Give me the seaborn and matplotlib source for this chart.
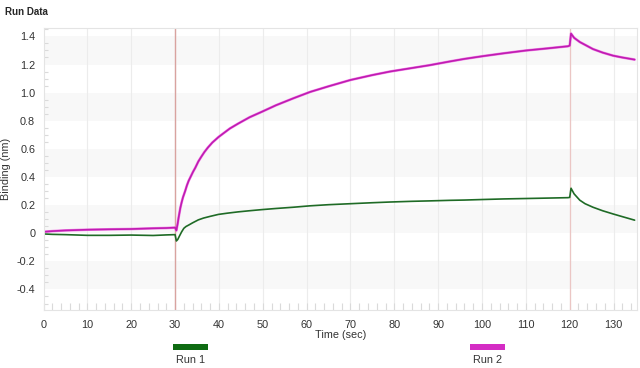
import numpy as np
import pandas as pd
import matplotlib
matplotlib.use("Agg")
import matplotlib.pyplot as plt
from matplotlib.patches import Rectangle
from matplotlib.ticker import MultipleLocator
import seaborn as sns

# time points (sec) and binding (nm)
time1 = [0, 2, 5, 10, 15, 20, 25, 28, 30, 30.3, 30.6, 31, 31.5, 32, 32.5, 33.1, 34,
         35.3, 36.5, 38, 39.9, 42, 44.4, 47, 49.8, 53, 57, 60.8, 65, 70, 75, 79, 84,
         88, 92.7, 96, 100.3, 105, 110.1, 115, 119.6, 120.0, 120.3, 121, 122.3, 123.5,
         125.3, 127.5, 129.9, 132, 134.8]
run1 = [-0.005, -0.008, -0.01, -0.015, -0.015, -0.013, -0.016, -0.012, -0.01, -0.055,
        -0.045, -0.02, 0.01, 0.035, 0.048, 0.058, 0.074, 0.095, 0.108, 0.12, 0.134,
        0.143, 0.152, 0.16, 0.168, 0.176, 0.185, 0.195, 0.203, 0.21, 0.217, 0.222,
        0.227, 0.23, 0.234, 0.236, 0.24, 0.244, 0.247, 0.25, 0.253, 0.255, 0.32, 0.28,
        0.235, 0.21, 0.185, 0.16, 0.137, 0.118, 0.093]

time2 = [0, 2, 5, 10, 15, 20, 25, 28, 30, 30.3, 30.6, 30.8, 31.2, 31.5, 31.8, 32.3,
         32.7, 33.1, 33.6, 34.1, 34.6, 35.3, 36, 36.7, 37.5, 38.5, 39.9, 41, 42.5,
         44.4, 47, 49.8, 53, 57, 60.8, 65, 70, 75, 79, 84, 88, 92.7, 96, 100.3, 105,
         110.1, 115, 119.6, 120.0, 120.3, 121, 122.3, 123.5, 125.3, 127.5, 129.9, 132,
         134.8]
run2 = [0.01, 0.015, 0.02, 0.025, 0.028, 0.03, 0.035, 0.037, 0.04, 0.02, 0.07, 0.11,
        0.18, 0.22, 0.255, 0.30, 0.34, 0.373, 0.405, 0.437, 0.465, 0.51, 0.545, 0.578,
        0.61, 0.645, 0.684, 0.71, 0.745, 0.78, 0.825, 0.864, 0.91, 0.96, 1.005, 1.045,
        1.09, 1.125, 1.15, 1.175, 1.195, 1.222, 1.24, 1.26, 1.28, 1.30, 1.315, 1.33,
        1.335, 1.42, 1.39, 1.36, 1.34, 1.31, 1.285, 1.263, 1.25, 1.235]

run_names = ["Run 1", "Run 2"]
line_colors = {"Run 1": "#1f6b26", "Run 2": "#c01cb2"}
bar_colors = {"Run 1": "#0e6b12", "Run 2": "#d42cc4"}
step_times = [30, 120]
band_edges = [(1.2, 1.4), (0.8, 1.0), (0.4, 0.6), (0.0, 0.2), (-0.4, -0.2)]

df = pd.DataFrame({
    "time": time1 + time2,
    "binding": run1 + run2,
    "run": ["Run 1"] * len(time1) + ["Run 2"] * len(time2),
})

sns.set_style("white")
plt.rcParams["font.family"] = ["Liberation Sans", "DejaVu Sans"]

fig = plt.figure(figsize=(6.4, 3.68), dpi=100)
ax = fig.add_axes([0.068, 0.158, 0.927, 0.766])

for lo, hi in band_edges:
    ax.axhspan(lo, hi, color="#f8f8f8", zorder=0, lw=0)
for x in range(10, 140, 10):
    ax.axvline(x, color="#ececec", lw=0.8, zorder=0.5)

ax.axvline(step_times[0], color="#d9a3a0", lw=1.0, zorder=1)
ax.axvline(step_times[1], color="#ebc6c4", lw=0.9, zorder=1)

sns.lineplot(data=df[df.run == "Run 2"], x="time", y="binding", color="#ec55de",
             linewidth=1.9, alpha=0.7, ax=ax, legend=False, estimator=None)
sns.lineplot(data=df, x="time", y="binding", hue="run", palette=line_colors,
             linewidth=1.2, ax=ax, legend=False, estimator=None)

ax.set_xlim(0, 135.3)
ax.set_ylim(-0.545, 1.46)
ax.xaxis.set_major_locator(MultipleLocator(10))
ax.xaxis.set_minor_locator(MultipleLocator(2))
ax.yaxis.set_major_locator(MultipleLocator(0.2))
ax.yaxis.set_minor_locator(MultipleLocator(0.05))
ax.yaxis.set_major_formatter(plt.FuncFormatter(lambda v, p: "0" if abs(v) < 1e-9 else f"{v:.1f}"))
ax.tick_params(which="both", direction="in", color="#dadada", labelsize=7.8,
               labelcolor="#333333", length=5, width=0.8, bottom=True, left=True)
ax.tick_params(axis="y", which="major", length=0, pad=6)
ax.tick_params(axis="y", which="minor", length=3)
ax.tick_params(axis="x", which="major", pad=7)
for s in ax.spines.values():
    s.set_color("#e4e4e4")
    s.set_linewidth(0.8)

ax.set_xlabel("Time (sec)", fontsize=7.8, color="#333333", labelpad=0)
ax.set_ylabel("Binding (nm)", fontsize=7.8, color="#333333", labelpad=4)

fig.text(0.008, 0.98, "Run Data", fontsize=7, fontweight="bold", va="top", ha="left")

# custom legend: coloured bar with the run name under it
for name, x0 in zip(run_names, [173, 470]):
    fig.patches.append(Rectangle((x0 / 640, 1 - 350 / 368), 35 / 640, 6 / 368,
                                 transform=fig.transFigure, color=bar_colors[name], lw=0))
    fig.text((x0 + 17.5) / 640, 1 - 360 / 368, name, fontsize=7.8, color="#333333",
             ha="center", va="center")

fig.savefig("out.png", dpi=100)
